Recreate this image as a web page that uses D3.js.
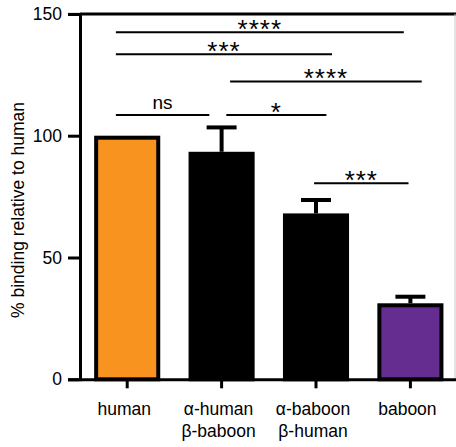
<!DOCTYPE html>
<html>
<head>
<meta charset="utf-8">
<script src="https://cdn.jsdelivr.net/npm/d3@7"></script>
<style>
  html, body { margin: 0; padding: 0; background: #fff; }
  svg { display: block; }
  text { font-family: "Liberation Sans", Arial, sans-serif; fill: #000; }
</style>
</head>
<body>
<svg id="chart" width="456" height="447"></svg>
<script>
// Binding data, % relative to human
const categories = ["human", "α-human|β-baboon", "α-baboon|β-human", "baboon"];
const means = [100, 93.4, 68.1, 31.2];
const errors = [0, 10.0, 5.5, 2.7];
const fills = ["#F7931E", "#000000", "#000000", "#662D91"];
const yTicks = [0, 50, 100, 150];

// Pairwise comparisons: [start, end] in category-index units, level in % units, label
const comparisons = [
  [-0.12, 0.87, 108.5, "ns"],
  [1.05, 2.11, 108.5, "*"],
  [1.09, 3.12, 122.3, "****"],
  [-0.12, 2.17, 133.4, "***"],
  [-0.12, 2.93, 142.5, "****"],
  [1.98, 2.98, 80.5, "***"]
];

const svg = d3.select("#chart");
const plotLeft = 80, plotBottom = 379.3, plotTop = 13.9;

const x = d3.scaleBand()
  .domain(categories)
  .range([plotLeft, plotLeft + 4 * 94.4])
  .paddingInner(0.3)
  .paddingOuter(0.15);

const y = d3.scaleLinear().domain([0, 150]).range([plotBottom, plotTop]);

// category index -> band centre (for bracket ends)
const xi = d3.scaleLinear()
  .domain([0, categories.length - 1])
  .range([x(categories[0]) + x.bandwidth() / 2,
          x(categories[categories.length - 1]) + x.bandwidth() / 2]);

// Frame: top rule and light right edge
svg.append("line")
  .attr("x1", plotLeft).attr("x2", 456)
  .attr("y1", y(150)).attr("y2", y(150))
  .attr("stroke", "#000").attr("stroke-width", 3);
svg.append("line")
  .attr("x1", 455).attr("x2", 455)
  .attr("y1", y(150)).attr("y2", y(0))
  .attr("stroke", "#c8c8c8").attr("stroke-width", 1);

// Bars
const barG = svg.append("g");
categories.forEach((c, i) => {
  barG.append("rect")
    .attr("x", x(c) + 2)
    .attr("y", y(means[i]) + 2)
    .attr("width", x.bandwidth() - 4)
    .attr("height", y(0) - y(means[i]) - 2)
    .attr("fill", fills[i])
    .attr("stroke", "#000")
    .attr("stroke-width", 4);
  if (errors[i] > 0) {
    const cx = x(c) + x.bandwidth() / 2;
    barG.append("line")
      .attr("x1", cx).attr("x2", cx)
      .attr("y1", y(means[i])).attr("y2", y(means[i] + errors[i]))
      .attr("stroke", "#000").attr("stroke-width", 4);
    barG.append("line")
      .attr("x1", cx - 15).attr("x2", cx + 15)
      .attr("y1", y(means[i] + errors[i])).attr("y2", y(means[i] + errors[i]))
      .attr("stroke", "#000").attr("stroke-width", 4);
  }
});

// Y axis
const yAxis = svg.append("g")
  .attr("transform", `translate(${plotLeft},0)`)
  .call(d3.axisLeft(y).tickValues(yTicks).tickSize(12).tickPadding(6));
yAxis.select(".domain").attr("stroke-width", 3);
yAxis.selectAll(".tick line").attr("stroke-width", 3);
yAxis.selectAll(".tick text")
  .attr("font-size", 17.5)
  .attr("font-family", "Liberation Sans, Arial, sans-serif");

// X axis
const xAxis = svg.append("g")
  .attr("transform", `translate(0,${plotBottom})`)
  .call(d3.axisBottom(x).tickSize(9).tickSizeOuter(0).tickFormat(""));
xAxis.select(".domain").attr("stroke-width", 3);
xAxis.selectAll(".tick line").attr("stroke-width", 3);

// Category labels (two lines for chimeras)
categories.forEach(c => {
  const lines = c.split("|");
  const lx = x(c) + x.bandwidth() / 2 - 3;
  const t = svg.append("text")
    .attr("x", lx)
    .attr("y", 414.5)
    .attr("text-anchor", "middle")
    .attr("font-size", 17.5);
  lines.forEach((ln, k) => {
    t.append("tspan")
      .attr("x", lx)
      .attr("dy", k === 0 ? 0 : 22)
      .text(ln);
  });
});

// Y axis title
svg.append("text")
  .attr("transform", "translate(24,210) rotate(-90)")
  .attr("text-anchor", "middle")
  .attr("font-size", 17.5)
  .text("% binding relative to human");

// Significance brackets
comparisons.forEach(([a, b, lvl, lab]) => {
  const x1 = xi(a), x2 = xi(b);
  svg.append("line")
    .attr("x1", x1).attr("x2", x2)
    .attr("y1", y(lvl)).attr("y2", y(lvl))
    .attr("stroke", "#000").attr("stroke-width", 2);
  const isStar = lab !== "ns";
  svg.append("text")
    .attr("x", (x1 + x2) / 2)
    .attr("y", y(lvl) + (isStar ? 6 : -6))
    .attr("text-anchor", "middle")
    .attr("font-size", isStar ? 26 : 19)
    .attr("letter-spacing", isStar ? 1 : 0)
    .text(lab);
});
</script>
</body>
</html>
